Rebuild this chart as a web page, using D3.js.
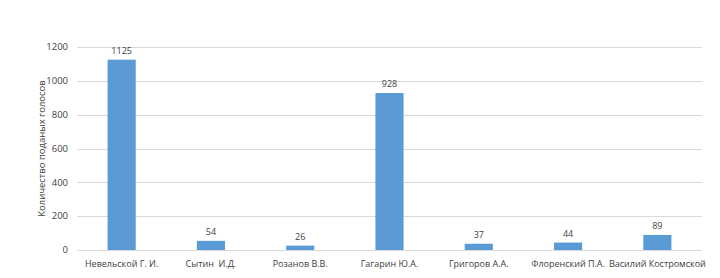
<!DOCTYPE html>
<html>
<head>
<meta charset="utf-8">
<script src="https://d3js.org/d3.v7.min.js"></script>
<style>
  body { margin: 0; background: #fff; }
  text { font-family: "Open Sans", "DejaVu Sans", sans-serif; }
</style>
</head>
<body>
<svg width="720" height="278"></svg>
<script>
var categories = ["Невельской Г. И.", "Сытин  И.Д.", "Розанов В.В.", "Гагарин Ю.А.", "Григоров А.А.", "Флоренский П.А.", "Василий Костромской"];
var votes = [1125, 54, 26, 928, 37, 44, 89];
var yTicks = [0, 200, 400, 600, 800, 1000, 1200];
var yTitle = "Количество поданых голосов";

var svg = d3.select("svg");
var plotLeft = 77, plotRight = 702, plotTop = 47, plotBottom = 250;

var x = d3.scaleBand().domain(categories).range([plotLeft, plotRight]).paddingInner(0.685).paddingOuter(0.3425);
var y = d3.scaleLinear().domain([0, 1200]).range([plotBottom, plotTop]);

// gridlines
svg.append("g").selectAll("line").data(yTicks).enter().append("line")
  .attr("x1", plotLeft).attr("x2", plotRight)
  .attr("y1", function(d) { return Math.round(y(d)) + 0.5; })
  .attr("y2", function(d) { return Math.round(y(d)) + 0.5; })
  .attr("stroke", "#d9d9d9").attr("stroke-width", 1);

// y tick labels
svg.append("g").selectAll("text").data(yTicks).enter().append("text")
  .attr("x", 68).attr("y", function(d) { return y(d); })
  .attr("dy", "0.35em").attr("text-anchor", "end")
  .attr("font-size", 9.5).attr("fill", "#404040")
  .text(function(d) { return d; });

// y title
svg.append("text")
  .attr("transform", "translate(42," + ((plotTop + plotBottom) / 2) + ") rotate(-90)")
  .attr("text-anchor", "middle").attr("dy", "0.35em")
  .attr("font-size", 9.5).attr("fill", "#404040")
  .text(yTitle);

// bars
svg.append("g").selectAll("rect").data(votes).enter().append("rect")
  .attr("x", function(d, i) { return x(categories[i]); })
  .attr("width", x.bandwidth())
  .attr("y", function(d) { return y(d); })
  .attr("height", function(d) { return plotBottom - y(d); })
  .attr("fill", "#5b9bd5");

// data labels
svg.append("g").selectAll("text").data(votes).enter().append("text")
  .attr("x", function(d, i) { return x(categories[i]) + x.bandwidth() / 2; })
  .attr("y", function(d) { return y(d) - 6; })
  .attr("text-anchor", "middle")
  .attr("font-size", 9).attr("fill", "#404040")
  .text(function(d) { return d; });

// category labels
svg.append("g").selectAll("text").data(categories).enter().append("text")
  .attr("x", function(d) { return x(d) + x.bandwidth() / 2; })
  .attr("y", 267)
  .attr("text-anchor", "middle")
  .attr("font-size", 9).attr("fill", "#404040")
  .attr("xml:space", "preserve")
  .text(function(d) { return d; });
</script>
</body>
</html>
